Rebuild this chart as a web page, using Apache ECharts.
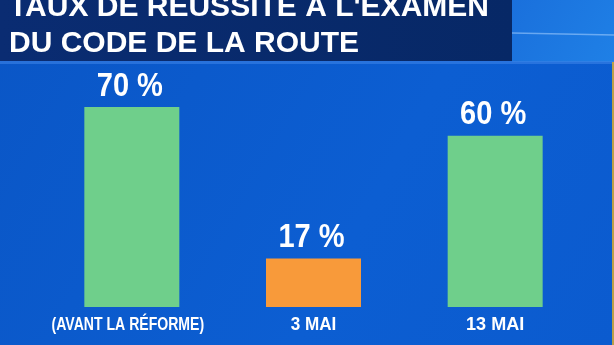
<!DOCTYPE html>
<html>
<head>
<meta charset="utf-8">
<script src="https://cdn.jsdelivr.net/npm/echarts@6/dist/echarts.min.js"></script>
<style>
  html, body { margin: 0; padding: 0; background: #0c5bcd; }
  #chart { width: 614px; height: 345px; }
</style>
</head>
<body>
<div id="chart"></div>
<script>
// Taux de réussite au code de la route
const titleLines = ['TAUX DE RÉUSSITE À L\'EXAMEN', 'DU CODE DE LA ROUTE'];
const categories = ['(AVANT LA RÉFORME)', '3 MAI', '13 MAI'];
const rates = [70, 17, 60];
const barColors = ['#6fcf8b', '#f89a3a', '#6fcf8b'];
// horizontal squeeze of each category label (condensed lettering)
const labelStretch = [0.74, 0.9, 0.95];

const FONT = '"Liberation Sans", Arial, sans-serif';

const chart = echarts.init(document.getElementById('chart'), null, { renderer: 'canvas' });

const decor = [
  // bandeau clair à droite du titre
  {
    type: 'rect', z: -1, silent: true,
    shape: { x: 512, y: 0, width: 102, height: 62 },
    style: {
      fill: {
        type: 'linear', x: 0, y: 0, x2: 1, y2: 1,
        colorStops: [{ offset: 0, color: '#1a70dc' }, { offset: 1, color: '#1f80e6' }]
      }
    }
  },
  {
    type: 'line', silent: true,
    shape: { x1: 512, y1: 33, x2: 614, y2: 35 },
    style: { stroke: 'rgba(170,210,255,0.55)', lineWidth: 1.5 }
  },
  // bandeau du titre
  {
    type: 'rect', silent: true,
    shape: { x: 0, y: 0, width: 512, height: 61 },
    style: {
      fill: {
        type: 'linear', x: 0, y: 0, x2: 1, y2: 0,
        colorStops: [{ offset: 0, color: '#0a2c72' }, { offset: 1, color: '#072866' }]
      }
    }
  },
  {
    type: 'rect', silent: true,
    shape: { x: 0, y: 61, width: 614, height: 3 },
    style: { fill: 'rgba(60,130,230,0.6)' }
  },
  {
    type: 'text', silent: true, left: 9, top: -10,
    style: {
      text: titleLines.join('\n'),
      fill: '#ffffff',
      font: 'bold 30px ' + FONT,
      lineHeight: 36
    }
  },
  // liseré doré à droite
  {
    type: 'rect', silent: true,
    shape: { x: 612, y: 62, width: 2, height: 283 },
    style: { fill: '#b8a04a' }
  }
];

chart.setOption({
  animation: false,
  backgroundColor: {
    type: 'linear', x: 0, y: 0, x2: 1, y2: 1,
    colorStops: [
      { offset: 0, color: '#0a56c6' },
      { offset: 0.6, color: '#0c5ed2' },
      { offset: 1, color: '#0b5bcf' }
    ]
  },
  graphic: decor,
  grid: { left: 41, right: 28, top: 21.4, bottom: 38 },
  xAxis: {
    type: 'category',
    data: categories,
    axisLine: { show: false },
    axisTick: { show: false },
    axisLabel: { show: false }
  },
  yAxis: {
    type: 'value',
    min: 0,
    max: 100,
    show: false,
    splitLine: { show: false }
  },
  series: [{
    type: 'bar',
    data: rates.map((v, i) => ({ value: v, itemStyle: { color: barColors[i] } })),
    barWidth: 95
  }]
});

// Étiquettes en lettres condensées, placées d'après les échelles du graphique
const labels = [];
categories.forEach((cat, i) => {
  const top = chart.convertToPixel({ seriesIndex: 0 }, [i, rates[i]]);
  const base = chart.convertToPixel({ seriesIndex: 0 }, [i, 0]);
  labels.push({
    type: 'text', silent: true, z: 10,
    x: top[0] - 2, y: top[1] - 4, scaleX: 0.88,
    style: {
      text: rates[i] + ' %',
      fill: '#ffffff',
      font: 'bold 33px ' + FONT,
      align: 'center',
      verticalAlign: 'bottom'
    }
  });
  labels.push({
    type: 'text', silent: true, z: 10,
    x: base[0] - 4 * (i === 0 ? 1 : 0), y: base[1] + 8, scaleX: labelStretch[i],
    style: {
      text: cat,
      fill: '#ffffff',
      font: 'bold 19px ' + FONT,
      align: 'center',
      verticalAlign: 'top'
    }
  });
});

chart.setOption({ graphic: decor.concat(labels) });
</script>
</body>
</html>
